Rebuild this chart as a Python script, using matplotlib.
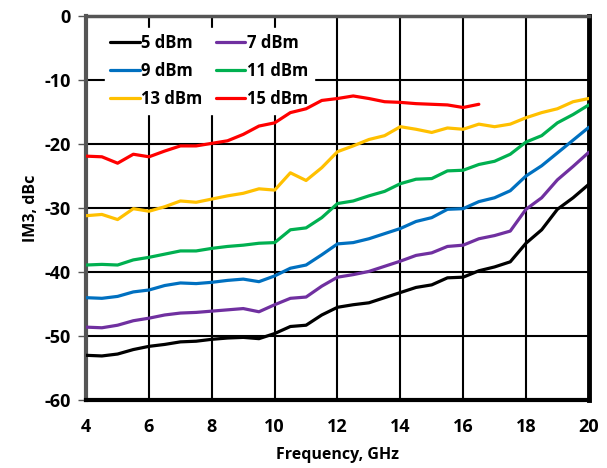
import numpy as np
import matplotlib
matplotlib.use("Agg")
import matplotlib.pyplot as plt

plt.rcParams['font.family'] = ['Open Sans', 'DejaVu Sans']
plt.rcParams['font.weight'] = 'bold'
plt.rcParams['axes.unicode_minus'] = False

freq = np.arange(4.0, 20.01, 0.5)
freq_15 = np.arange(4.0, 16.51, 0.5)

im3_5 = [-53.0, -53.1, -52.8, -52.1, -51.6, -51.3, -50.9, -50.8, -50.5, -50.3, -50.2, -50.4,
         -49.6, -48.5, -48.3, -46.7, -45.5, -45.1, -44.8, -44.0, -43.2, -42.4, -42.0, -40.9,
         -40.8, -39.8, -39.2, -38.4, -35.5, -33.4, -30.2, -28.4, -26.3]
im3_7 = [-48.6, -48.7, -48.3, -47.6, -47.2, -46.7, -46.4, -46.3, -46.1, -45.9, -45.7, -46.2,
         -45.1, -44.1, -43.9, -42.2, -40.8, -40.4, -39.9, -39.1, -38.3, -37.4, -37.0, -36.0,
         -35.8, -34.8, -34.3, -33.6, -30.2, -28.4, -25.6, -23.5, -21.3]
im3_9 = [-44.0, -44.1, -43.8, -43.1, -42.8, -42.1, -41.7, -41.8, -41.6, -41.3, -41.1, -41.5,
         -40.6, -39.4, -38.9, -37.3, -35.6, -35.4, -34.8, -34.0, -33.2, -32.1, -31.5, -30.2,
         -30.1, -29.0, -28.4, -27.3, -25.0, -23.4, -21.4, -19.4, -17.4]
im3_11 = [-38.9, -38.8, -38.9, -38.1, -37.7, -37.2, -36.7, -36.7, -36.3, -36.0, -35.8, -35.5,
          -35.4, -33.4, -33.1, -31.5, -29.3, -28.9, -28.1, -27.4, -26.2, -25.5, -25.4, -24.2,
          -24.1, -23.2, -22.7, -21.6, -19.7, -18.7, -16.7, -15.4, -13.9]
im3_13 = [-31.2, -31.0, -31.8, -30.1, -30.5, -29.8, -28.9, -29.1, -28.6, -28.1, -27.7, -27.0,
          -27.2, -24.5, -25.7, -23.7, -21.2, -20.3, -19.3, -18.7, -17.3, -17.7, -18.2, -17.5,
          -17.7, -16.9, -17.3, -16.9, -15.9, -15.1, -14.5, -13.4, -12.9]
im3_15 = [-21.9, -22.0, -23.0, -21.6, -22.0, -21.1, -20.3, -20.3, -19.9, -19.5, -18.5, -17.2,
          -16.7, -15.1, -14.5, -13.2, -12.9, -12.5, -12.9, -13.4, -13.5, -13.7, -13.8, -13.9,
          -14.3, -13.8]

fig = plt.figure(figsize=(6.07, 4.68), dpi=100)
ax = fig.add_axes([0.142, 0.145, 0.828, 0.821])

kw = dict(lw=2.3, solid_joinstyle='round', solid_capstyle='round', zorder=3)
l5, = ax.plot(freq, im3_5, color='black', label='5 dBm', **kw)
l7, = ax.plot(freq, im3_7, color='#7030A0', label='7 dBm', **kw)
l9, = ax.plot(freq, im3_9, color='#0070C0', label='9 dBm', **kw)
l11, = ax.plot(freq, im3_11, color='#00B050', label='11 dBm', **kw)
l13, = ax.plot(freq, im3_13, color='#FFC000', label='13 dBm', **kw)
l15, = ax.plot(freq_15, im3_15, color='#FF0000', label='15 dBm', **kw)

ax.set_xlim(4, 20)
ax.set_ylim(-60, 0)
ax.set_xticks(np.arange(4, 21, 2))
ax.set_yticks(np.arange(-60, 1, 10))
ax.grid(True, color='black', lw=1.5)
ax.set_axisbelow(True)
ax.tick_params(axis='x', length=0, labelsize=13, pad=13)
ax.tick_params(axis='y', length=6, width=1, color='#555555', direction='out', labelsize=13, pad=5)
for lab in ax.get_xticklabels() + ax.get_yticklabels():
    lab.set_fontweight('bold')

ax.spines['left'].set_color('#555555')
ax.spines['left'].set_linewidth(3)
ax.spines['top'].set_color('#555555')
ax.spines['top'].set_linewidth(2.5)
ax.spines['bottom'].set_color('black')
ax.spines['bottom'].set_linewidth(3)
ax.spines['right'].set_color('black')
ax.spines['right'].set_linewidth(3.5)

ax.set_xlabel('Frequency, GHz', fontsize=11.5, fontweight='bold', labelpad=8)
ax.set_ylabel('IM3, dBc', fontsize=11.5, fontweight='bold', labelpad=4)

# legend filled row-wise like the original
handles = [l5, l9, l13, l7, l11, l15]
leg = ax.legend(handles, [h.get_label() for h in handles], ncol=2, loc='upper left',
                bbox_to_anchor=(0.02, 0.99), frameon=True, fancybox=False, fontsize=12,
                handlelength=1.75, handletextpad=0.1, columnspacing=0.8,
                labelspacing=0.6, borderpad=0.35)
leg.get_frame().set_facecolor('white')
leg.get_frame().set_edgecolor('white')
leg.get_frame().set_alpha(1)
leg.set_zorder(1.5)
for t in leg.get_texts():
    t.set_fontweight('bold')

fig.savefig('out.png', dpi=100)
